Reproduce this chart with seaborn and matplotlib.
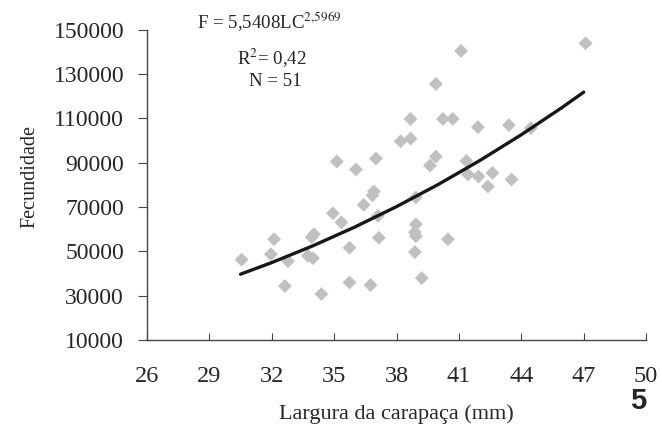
import pandas as pd
import seaborn as sns
import matplotlib.pyplot as plt

# carapace width (mm) and fecundity
largura = [30.55, 32.11, 31.96, 32.78, 32.63, 34.03, 33.92, 33.74, 33.98, 34.94,
           35.35, 35.74, 34.39, 35.74, 36.75, 36.42, 36.91, 36.84, 37.15, 37.11,
           35.13, 36.05, 37.01, 38.93, 38.20, 38.68, 38.67, 40.23, 40.70, 39.89,
           41.10, 41.91, 43.40, 39.89, 39.61, 41.36, 41.43, 41.94, 42.61, 42.39,
           43.53, 47.09, 38.93, 38.88, 38.93, 40.47, 38.88, 39.21, 44.46]
fecundidade = [46200, 55450, 48700, 45550, 34300, 57700, 56350, 48000, 46900, 67150,
               63100, 51600, 30700, 35900, 34750, 71000, 77000, 75250, 56100, 66000,
               90550, 86950, 91900, 74350, 99700, 100900, 109800, 109800, 109800, 125650,
               140500, 106100, 107000, 92800, 88750, 90800, 84700, 83800, 85400, 79300,
               82450, 144000, 62200, 58600, 56800, 55450, 49600, 37900, 105700]

# fitted curve F = 5,5408 LC^2,5969 as drawn in the figure
curva_lc = [30.5, 32, 34, 36, 38, 40, 42, 44, 46, 47]
curva_f = [39650, 44900, 52560, 60980, 70190, 80160, 90980, 102660, 115230, 121900]

pontos = pd.DataFrame({"LC": largura, "F": fecundidade})
curva = pd.DataFrame({"LC": curva_lc, "F": curva_f})

sns.set_style("ticks")
plt.rcParams['font.family'] = ['Liberation Serif', 'DejaVu Serif']
plt.rcParams['mathtext.fontset'] = 'stix'

fig = plt.figure(figsize=(6.62, 4.34), dpi=100)
ax = fig.add_axes([0.222, 0.217, 0.754, 0.714])

sns.scatterplot(data=pontos, x="LC", y="F", ax=ax, marker="D", s=50,
                color="#c0c0c0", edgecolor="none", zorder=2)
sns.lineplot(data=curva, x="LC", y="F", ax=ax, color="#1a1616", lw=2.4, zorder=3)

ax.set_xlim(26, 50)
ax.set_ylim(10000, 150000)
ax.set_xticks(range(26, 51, 3))
ax.set_yticks(range(10000, 150001, 20000))
ax.tick_params(axis="x", direction="in", length=5, labelsize=17.5, pad=19, color="#444")
ax.tick_params(axis="y", direction="out", length=6.5, labelsize=17, pad=10, color="#444")
sns.despine(ax=ax)
for s in ["left", "bottom"]:
    ax.spines[s].set_color("#444")
    ax.spines[s].set_linewidth(1.0)

ax.set_xlabel("Largura da carapaça (mm)", fontsize=16, labelpad=12)
ax.set_ylabel("Fecundidade", fontsize=14.5)
ax.yaxis.set_label_coords(-0.216, 0.526)

ax.text(0.246, 1.025, r"F = 5,5408LC$^{2{,}5969}$", transform=ax.transAxes,
        ha="center", va="center", fontsize=13.6)
ax.text(0.25, 0.908, r"R$^{2}$= 0,42", transform=ax.transAxes,
        ha="center", va="center", fontsize=13.6)
ax.text(0.258, 0.835, "N = 51", transform=ax.transAxes,
        ha="center", va="center", fontsize=13.6)

fig.text(0.964, 0.075, "5", fontsize=21, fontweight="bold",
         family="Liberation Sans", ha="center", va="center")

fig.savefig("out.png", dpi=100, facecolor="white")
